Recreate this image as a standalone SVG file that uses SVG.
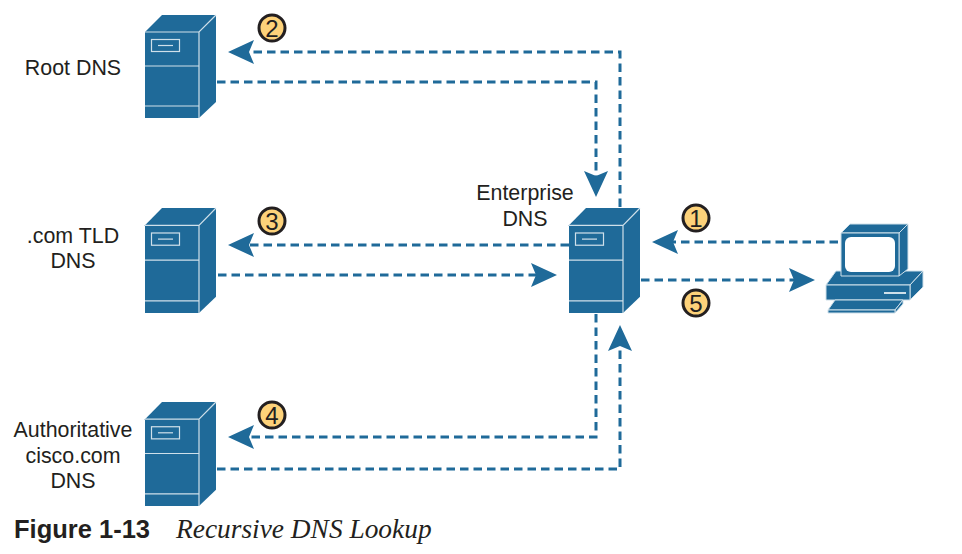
<svg xmlns="http://www.w3.org/2000/svg" width="962" height="554" viewBox="0 0 962 554">
<style>
.t{font-family:"Liberation Sans",Arial,sans-serif;font-size:21.4px;fill:#231f20;text-anchor:middle}
.c{fill:none;stroke:#1f6a99;stroke-width:3;stroke-dasharray:8.5 5;marker-end:url(#a)}
.f{fill:#1f6a99;stroke:#cfe0ea;stroke-width:1;stroke-linejoin:round}
.n{font-family:"Liberation Sans",Arial,sans-serif;font-size:24px;fill:#231f20;text-anchor:middle}
.b{fill:#fdd27a;stroke:#231f20;stroke-width:3}
.l{fill:none;stroke:#cfe0ea;stroke-width:1.2}
</style>
<defs>
<marker id="a" markerUnits="userSpaceOnUse" markerWidth="27" markerHeight="26" viewBox="0 0 27 26" refX="5" refY="13" orient="auto"><path d="M0 1L26 13L0 25L5 13Z" fill="#1f6a99"/></marker>
<g id="srv">
<path d="M0 17L17 0H71V87L54 103H0Z" fill="#1f6a99"/>
<path class="l" d="M0 17H54L71 0M54 17V103M0 51H54M0 91H54"/>
<rect class="l" x="6.500" y="24.500" width="28" height="12"/>
<path class="l" d="M13 30.500H28"/>
</g>
</defs>
<rect width="962" height="554" fill="#fff"/>
<g id="connectors">
<path class="c" d="M620 207V52H249"/>
<path class="c" d="M217 82H596V176"/>
<path class="c" d="M569 245H249"/>
<path class="c" d="M218 275H536"/>
<path class="c" d="M596 314V437H249"/>
<path class="c" d="M217 469H620V346"/>
<path class="c" d="M838 242H673"/>
<path class="c" d="M641 280H794"/>
</g>
<g id="root-dns"><use href="#srv" x="145" y="15"/><text class="t" x="73" y="75">Root DNS</text></g>
<g id="com-tld-dns"><use href="#srv" transform="translate(145 208) scale(1 1.02)"/><text class="t" x="73" y="243">.com TLD</text><text class="t" x="73" y="268">DNS</text></g>
<g id="authoritative-dns"><use href="#srv" transform="translate(145 402) scale(1 1.01)"/><text class="t" x="73" y="437">Authoritative</text><text class="t" x="73" y="463">cisco.com</text><text class="t" x="73" y="488">DNS</text></g>
<g id="enterprise-dns"><use href="#srv" transform="translate(569 208) scale(1 1.02)"/><text class="t" x="525" y="200">Enterprise</text><text class="t" x="525" y="226">DNS</text></g>
<g id="pc">
<path class="f" d="M826 285L836 271H923L910 285Z"/>
<path class="f" d="M910 285L923 271V287L910 300Z"/>
<rect class="f" x="826" y="285" width="84" height="15"/>
<path d="M884 293H906" stroke="#cfe0ea" stroke-width="2"/>
<path class="f" d="M841 233L850 224H908L899 233Z"/>
<path class="f" d="M899 233L908 224V269L899 276Z"/>
<rect class="f" x="841" y="233" width="58" height="43"/>
<rect x="845" y="237" width="50" height="35" rx="6" fill="#fff"/>
<path class="f" d="M828 310L835 300H903L895 310Z"/>
<path class="f" d="M895 310L903 300V304L895 313Z"/>
<rect class="f" x="828" y="310" width="67" height="3"/>
</g>
<g id="badge-1"><circle class="b" cx="696" cy="218" r="13"/><text class="n" x="696" y="226.500">1</text></g>
<g id="badge-2"><circle class="b" cx="272" cy="28" r="13"/><text class="n" x="272" y="36.500">2</text></g>
<g id="badge-3"><circle class="b" cx="272" cy="221" r="13"/><text class="n" x="272" y="229.500">3</text></g>
<g id="badge-4"><circle class="b" cx="272" cy="415" r="13"/><text class="n" x="272" y="423.500">4</text></g>
<g id="badge-5"><circle class="b" cx="696" cy="303" r="13"/><text class="n" x="696" y="311.500">5</text></g>
<text x="14" y="538" font-family="Liberation Sans,Arial,sans-serif" font-weight="700" font-size="25.5px" fill="#231f20">Figure 1-13</text>
<text x="176" y="538" font-family="Liberation Serif,Times New Roman,serif" font-style="italic" font-size="27.4px" fill="#231f20">Recursive DNS Lookup</text>
</svg>
